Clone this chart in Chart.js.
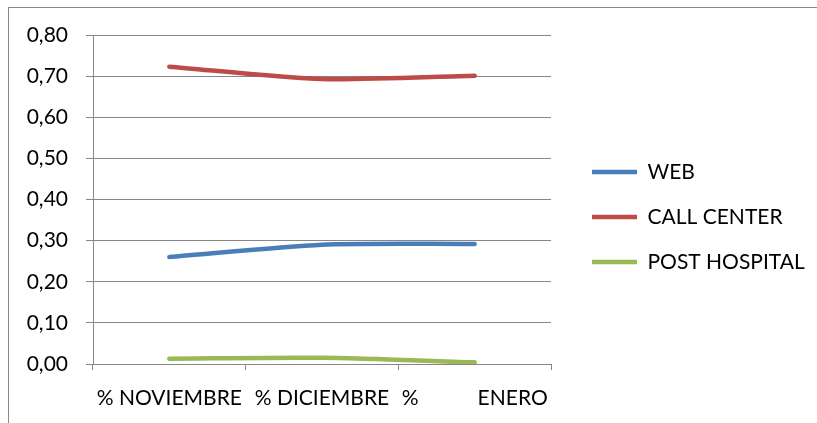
<!DOCTYPE html>
<html>
<head>
<meta charset="utf-8">
<script src="https://cdn.jsdelivr.net/npm/chart.js@4/dist/chart.umd.min.js"></script>
<style>
  html, body { margin: 0; padding: 0; background: #ffffff; }
  #wrap { position: relative; width: 817px; height: 423px; }
  #frame { position: absolute; left: 8px; top: 7px; right: -2px; bottom: -2px;
           border-top: 1px solid #8a8a8a; border-left: 1px solid #8a8a8a; pointer-events: none; }
</style>
</head>
<body>
<div id="wrap">
  <canvas id="c" width="817" height="423"></canvas>
  <div id="frame"></div>
</div>
<script>
const categories = ["% NOVIEMBRE", "% DICIEMBRE", "%           ENERO"];
const webValues = [0.26, 0.29, 0.292];
const callCenterValues = [0.723, 0.693, 0.701];
const postHospitalValues = [0.013, 0.015, 0.004];
const yTicks = [0, 0.1, 0.2, 0.3, 0.4, 0.5, 0.6, 0.7, 0.8];

const FONT = "Lato, 'Open Sans', sans-serif";
const GRID = "#868686";

const legendShift = {
  id: 'legendShift',
  afterLayout(chart) {
    const l = chart.legend;
    if (l) { l.left += 17; l.right += 17; l.top -= 12; l.bottom -= 12; }
  }
};

new Chart(document.getElementById('c'), {
  type: 'line',
  data: {
    labels: categories,
    datasets: [
      { label: 'WEB', data: webValues, borderColor: '#4a7ebb', backgroundColor: '#4a7ebb' },
      { label: 'CALL CENTER', data: callCenterValues, borderColor: '#be4b48', backgroundColor: '#be4b48' },
      { label: 'POST HOSPITAL', data: postHospitalValues, borderColor: '#98b954', backgroundColor: '#98b954' }
    ].map(d => Object.assign(d, {
      borderWidth: 4.5, pointRadius: 0, pointHoverRadius: 0, tension: 0.25,
      borderCapStyle: 'round', borderJoinStyle: 'round', fill: false,
      pointStyle: 'line'
    }))
  },
  options: {
    responsive: false,
    animation: false,
    events: [],
    layout: { padding: { left: 10, top: 35, right: 21, bottom: 0 } },
    plugins: {
      tooltip: { enabled: false },
      legend: {
        position: 'right',
        maxWidth: 245,
        labels: {
          usePointStyle: true,
          pointStyleWidth: 45,
          padding: 24,
          color: '#000000',
          font: { family: FONT, size: 21 }
        }
      }
    },
    scales: {
      x: {
        type: 'category',
        offset: true,
        grid: { display: true, offset: true, drawOnChartArea: false, drawTicks: true,
                tickLength: 6, color: GRID, lineWidth: 1 },
        border: { display: true, color: GRID, width: 1 },
        ticks: { color: '#000000', font: { family: FONT, size: 21 }, padding: 16,
                 maxRotation: 0, autoSkip: false },
        afterFit(s) { s.height = 59; }
      },
      y: {
        min: 0, max: 0.8,
        afterBuildTicks(s) { s.ticks = yTicks.map(v => ({ value: v })); },
        grid: { color: GRID, lineWidth: 1, tickLength: 7, drawTicks: true },
        border: { display: true, color: GRID, width: 1 },
        ticks: { color: '#000000', font: { family: FONT, size: 21 }, padding: 18,
                 callback: v => v.toFixed(2).replace('.', ',') },
        afterFit(s) { s.width = 83; }
      }
    }
  },
  plugins: [legendShift]
});
</script>
</body>
</html>
